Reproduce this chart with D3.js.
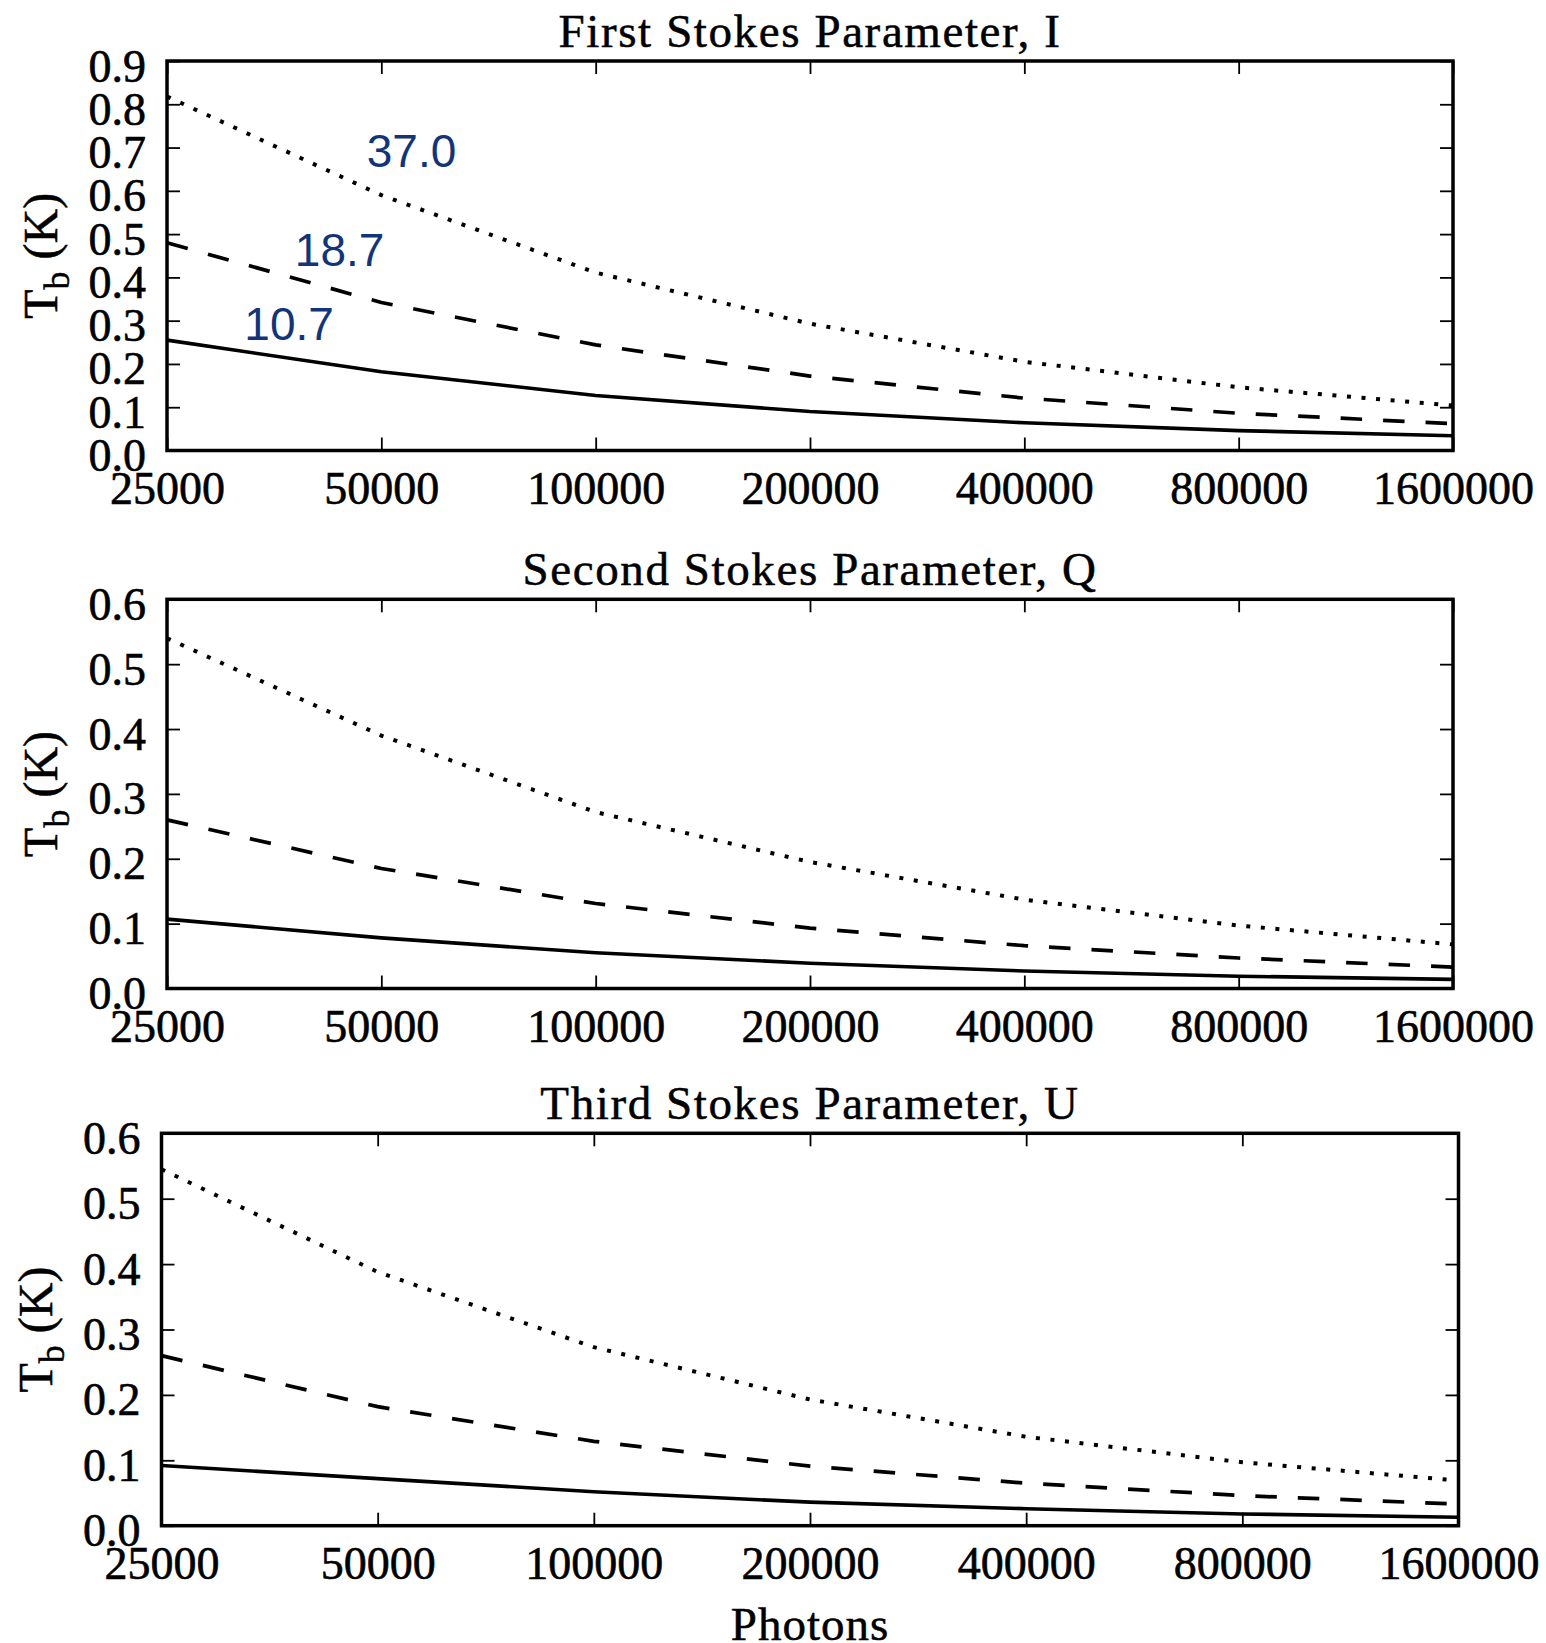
<!DOCTYPE html>
<html>
<head>
<meta charset="utf-8">
<script src="https://cdn.jsdelivr.net/npm/d3@7"></script>
<style>
  body { margin: 0; background: #fff; }
  svg { display: block; }
  .axis text { font-family: "Liberation Serif", serif; font-size: 46px; fill: #000; stroke: #000; stroke-width: 0.6px; }
  .axis line { stroke: #000; stroke-width: 1.8; }
  .title, .ylab, .xlab { font-family: "Liberation Serif", serif; fill: #000; stroke: #000; stroke-width: 0.5px; }
  .title { font-size: 47px; letter-spacing: 1.6px; }
  .ylab { font-size: 48px; }
  .xlab { font-size: 47px; letter-spacing: 1px; }
  .anno { font-family: "Liberation Sans", Arial, sans-serif; font-size: 46px; fill: #12357a; }
</style>
</head>
<body>
<div id="chart-area"></div>
<script>
// photon counts (x positions of the samples)
var photons = [25000, 50000, 100000, 200000, 400000, 800000, 1600000];

// panel titles and y-axis extents
var panelTitles = ["First Stokes Parameter, I", "Second Stokes Parameter, Q", "Third Stokes Parameter, U"];
var panelYMax = [0.9, 0.6, 0.6];

// brightness temperature (K)
var iSolid  = [0.255, 0.182, 0.127, 0.090, 0.064, 0.046, 0.034];
var iDashed = [0.480, 0.342, 0.244, 0.172, 0.121, 0.086, 0.062];
var iDotted = [0.818, 0.590, 0.411, 0.293, 0.205, 0.146, 0.104];

var qSolid  = [0.107, 0.078, 0.055, 0.039, 0.027, 0.019, 0.014];
var qDashed = [0.260, 0.185, 0.131, 0.093, 0.066, 0.047, 0.033];
var qDotted = [0.540, 0.390, 0.272, 0.195, 0.137, 0.097, 0.068];

var uSolid  = [0.092, 0.072, 0.052, 0.036, 0.026, 0.018, 0.013];
var uDashed = [0.260, 0.182, 0.129, 0.091, 0.065, 0.046, 0.033];
var uDotted = [0.545, 0.388, 0.273, 0.193, 0.136, 0.097, 0.069];

// frequency labels in the first panel (GHz), placed in data coordinates
var annoLabels = ["10.7", "18.7", "37.0"];
var annoX = [32100, 37800, 47700];
var annoY = [0.255, 0.427, 0.656];

var panelSeries = [
    [iSolid, iDashed, iDotted],
    [qSolid, qDashed, qDotted],
    [uSolid, uDashed, uDotted]
];

// line styles: solid, dashed, dotted
var styles = [
    {dash: null, width: 3.6},
    {dash: "21.5,21", width: 3.7},
    {dash: "4,10.6", width: 4}
];

// panel boxes in page pixels
var boxes = [
    {left: 167, right: 1453, top: 61, bottom: 450.5},
    {left: 167, right: 1453, top: 599.3, bottom: 988.5},
    {left: 161.5, right: 1458.5, top: 1133.3, bottom: 1525.7}
];

var svg = d3.select("#chart-area").append("svg")
    .attr("width", 1546)
    .attr("height", 1643);

boxes.forEach(function(b, p) {
    var w = b.right - b.left,
        h = b.bottom - b.top;

    var x = d3.scaleLog().base(2).domain([25000, 1600000]).range([0, w]);
    var y = d3.scaleLinear().domain([0, panelYMax[p]]).range([h, 0]);

    var g = svg.append("g")
        .attr("transform", "translate(" + b.left + "," + b.top + ")");

    var yTicks = d3.range(0, Math.round(panelYMax[p] * 10) + 1).map(function(k) { return k / 10; });

    // the three curves
    panelSeries[p].forEach(function(vals, s) {
        var line = d3.line()
            .x(function(d, i) { return x(photons[i]); })
            .y(function(d) { return y(d); });
        g.append("path")
            .datum(vals)
            .attr("fill", "none")
            .attr("stroke", "#000")
            .attr("stroke-width", styles[s].width)
            .attr("stroke-dasharray", styles[s].dash)
            .attr("d", line);
    });

    // bottom axis with labels
    var xb = g.append("g")
        .attr("class", "axis")
        .attr("transform", "translate(0," + h + ")")
        .call(d3.axisBottom(x).tickValues(photons).tickSize(-13).tickFormat(d3.format("d")));
    xb.select(".domain").remove();
    xb.selectAll("text").attr("y", 53).attr("dy", null);

    // top axis, ticks only
    var xt = g.append("g")
        .attr("class", "axis")
        .call(d3.axisTop(x).tickValues(photons).tickSize(-13).tickFormat(""));
    xt.select(".domain").remove();

    // left axis
    var yl = g.append("g")
        .attr("class", "axis")
        .call(d3.axisLeft(y).tickValues(yTicks).tickSize(-13).tickPadding(21).tickFormat(d3.format(".1f")));
    yl.select(".domain").remove();
    yl.selectAll("text").attr("dy", 20);

    // right axis, ticks only
    var yr = g.append("g")
        .attr("class", "axis")
        .attr("transform", "translate(" + w + ",0)")
        .call(d3.axisRight(y).tickValues(yTicks).tickSize(-13).tickFormat(""));
    yr.select(".domain").remove();

    // frame
    g.append("rect")
        .attr("width", w)
        .attr("height", h)
        .attr("fill", "none")
        .attr("stroke", "#000")
        .attr("stroke-width", 3.5);

    // title
    g.append("text")
        .attr("class", "title")
        .attr("x", w / 2)
        .attr("y", -14)
        .attr("text-anchor", "middle")
        .text(panelTitles[p]);

    // y label, T_b (K)
    var yl_t = g.append("text")
        .attr("class", "ylab")
        .attr("transform", "translate(-110," + (h / 2) + ") rotate(-90)")
        .attr("text-anchor", "middle");
    yl_t.append("tspan").text("T");
    yl_t.append("tspan").attr("dy", 12).style("font-size", "36px").text("b");
    yl_t.append("tspan").attr("dy", -12).text("\u00a0(K)");

    if (p === 0) {
        g.selectAll(".anno")
            .data(annoLabels)
            .enter().append("text")
            .attr("class", "anno")
            .attr("x", function(d, i) { return x(annoX[i]); })
            .attr("y", function(d, i) { return y(annoY[i]); })
            .text(function(d) { return d; });
    }

    if (p === 2) {
        g.append("text")
            .attr("class", "xlab")
            .attr("x", w / 2)
            .attr("y", h + 114)
            .attr("text-anchor", "middle")
            .text("Photons");
    }
});
</script>
</body>
</html>
